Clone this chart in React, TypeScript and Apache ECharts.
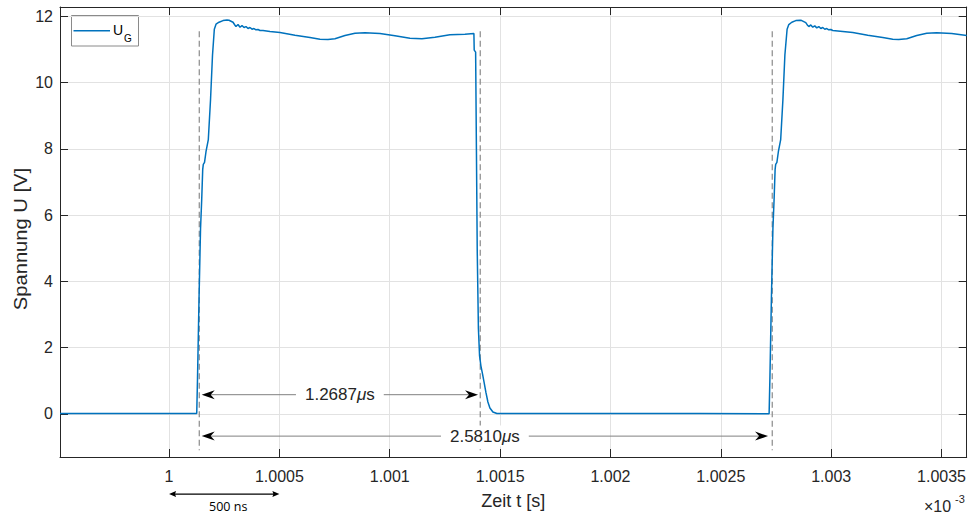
import React, { useEffect, useRef } from 'react';
import * as echarts from 'echarts';

// Time in ns relative to t = 1e-3 s; voltage in V
const preT = [-494, 0, 100, 125.5];
const preV = [0.01, 0.01, 0.015, 0.015];

const rise1T = [129.1, 135.9, 142.7, 148.1, 152.6, 155.3, 160.8, 167.6, 178, 188, 197, 205.2];
const rise1V = [1.08, 3.48, 5.58, 6.48, 7.38, 7.53, 7.59, 7.92, 8.28, 9.48, 10.83, 11.61];

const top1T = [212.9, 226.5, 244.6, 262.7, 271.7, 289.9, 298.9, 303.4, 312.5, 321.6, 330.6, 339.7, 348.7, 357.8, 366.8, 375.9, 385, 394, 403.1, 412.1, 425.7, 457.4, 502.7, 570.7, 638.6, 683.9, 720.1, 751.8, 797.1, 842.4, 887.7, 955.6, 1023.6, 1091.5, 1145.8, 1204.7, 1272.6, 1340.6, 1381.3];
const top1V = [11.76, 11.82, 11.87, 11.89, 11.88, 11.82, 11.73, 11.69, 11.75, 11.67, 11.72, 11.66, 11.69, 11.63, 11.66, 11.61, 11.63, 11.59, 11.6, 11.57, 11.57, 11.54, 11.51, 11.43, 11.36, 11.31, 11.3, 11.32, 11.42, 11.49, 11.5, 11.48, 11.41, 11.34, 11.32, 11.37, 11.44, 11.46, 11.48];

const fall1T = [1382.7, 1389.1, 1392.7, 1396.3, 1401.7, 1407, 1413, 1420.5, 1427.5, 1435.7, 1444.7, 1453.8, 1467.4, 1485.5];
const fall1V = [10.98, 10.92, 7.98, 4.98, 2.58, 1.75, 1.45, 1.2, 0.95, 0.65, 0.36, 0.18, 0.06, 0.015];

const lowT = [1952, 2405, 2718.8];
const lowV = [0.012, 0.009, 0.006];

const rise2T = [2722.4, 2729.2, 2736, 2741.4, 2746, 2748.6, 2754.1, 2760.9, 2771.3, 2781.3, 2790.3, 2800.3];
const rise2V = [1.08, 3.48, 5.58, 6.48, 7.38, 7.53, 7.59, 7.92, 8.28, 9.48, 10.83, 11.61];

const top2T = [2808, 2821.6, 2839.7, 2860, 2866.8, 2884.9, 2894, 2898.6, 2907.6, 2916.7, 2925.7, 2934.8, 2943.9, 2952.9, 2962, 2971, 2980.1, 2989.1, 2998.2, 3007.3, 3052.6, 3097.9, 3165.8, 3233.7, 3279, 3306.2, 3342.4, 3387.7, 3433, 3478.3, 3546.2, 3614.1];
const top2V = [11.75, 11.82, 11.87, 11.88, 11.87, 11.81, 11.72, 11.69, 11.74, 11.67, 11.71, 11.65, 11.69, 11.63, 11.66, 11.61, 11.63, 11.59, 11.6, 11.57, 11.54, 11.51, 11.43, 11.36, 11.31, 11.3, 11.32, 11.42, 11.49, 11.5, 11.48, 11.42];

const xTickValues = [0, 500, 1000, 1500, 2000, 2500, 3000, 3500];
const xTickLabels = ['1', '1.0005', '1.001', '1.0015', '1.002', '1.0025', '1.003', '1.0035'];
const yTickValues = [0, 2, 4, 6, 8, 10, 12];
const xRange = [-494, 3614];
const yRange = [-1.3, 12.28];

// Annotations
const markerTimes = [137, 1410, 2733];
const markerSpan = [11.55, -1.1];
const spanFrom = [148, 148];
const spanTo = [1400, 2714];
const spanLevel = [0.58, -0.67];
const spanLabels = ['1.2687', '2.5810'];
const scaleBar = [0, 500, -2.42];
const scaleBarLabel = '500 ns';

const seriesName = 'U_G';
const xName = 'Zeit t [s]';
const yName = 'Spannung U [V]';

function zip(t: number[], v: number[]) {
  return t.map((x, i) => [x, v[i]]);
}

const FONT = '"Liberation Sans", Arial, Helvetica, sans-serif';
const AX = '#262626';

function arrowHead(tipX: number, tipY: number, dir: number, len: number, half: number, notch: number) {
  return [
    [tipX, tipY],
    [tipX - dir * len, tipY - half],
    [tipX - dir * notch, tipY],
    [tipX - dir * len, tipY + half],
  ];
}

export default function App() {
  const ref = useRef<HTMLDivElement>(null);
  useEffect(() => {
    if (!ref.current) return;
    const chart = echarts.init(ref.current, undefined, { renderer: 'svg' });
    const waveData = [
      ...zip(preT, preV),
      ...zip(rise1T, rise1V),
      ...zip(top1T, top1V),
      ...zip(fall1T, fall1V),
      ...zip(lowT, lowV),
      ...zip(rise2T, rise2V),
      ...zip(top2T, top2V),
    ];
    const grid = { left: 60, right: 2, top: 7, bottom: 56 };
    const tickStyle = { show: true, inside: true, length: 8, lineStyle: { color: AX, width: 1 } };
    const option: any = {
      animation: false,
      backgroundColor: '#ffffff',
      grid,
      xAxis: [
        {
          type: 'value',
          min: xRange[0],
          max: xRange[1],
          position: 'bottom',
          name: xName,
          nameLocation: 'middle',
          nameGap: 35,
          nameTextStyle: { fontFamily: FONT, fontSize: 18, color: AX },
          axisLine: { show: true, onZero: false, lineStyle: { color: AX, width: 1 } },
          axisTick: { ...tickStyle, customValues: xTickValues },
          axisLabel: {
            customValues: xTickValues,
            formatter: (v: number) => {
              const i = xTickValues.indexOf(Math.round(v));
              return i >= 0 ? xTickLabels[i] : '';
            },
            fontFamily: FONT,
            fontSize: 16,
            color: AX,
            margin: 11,
          },
          splitLine: { show: true, lineStyle: { color: '#e2e2e2', width: 1 } },
        },
        {
          type: 'value',
          min: xRange[0],
          max: xRange[1],
          position: 'top',
          axisLine: { show: true, onZero: false, lineStyle: { color: AX, width: 1 } },
          axisTick: { ...tickStyle, customValues: xTickValues },
          axisLabel: { show: false, customValues: xTickValues },
          splitLine: { show: false },
        },
      ],
      yAxis: [
        {
          type: 'value',
          min: yRange[0],
          max: yRange[1],
          position: 'left',
          axisLine: { show: true, onZero: false, lineStyle: { color: AX, width: 1 } },
          axisTick: { ...tickStyle, customValues: yTickValues },
          axisLabel: { customValues: yTickValues, fontFamily: FONT, fontSize: 16, color: AX, margin: 7 },
          splitLine: { show: true, lineStyle: { color: '#e2e2e2', width: 1 } },
        },
        {
          type: 'value',
          min: yRange[0],
          max: yRange[1],
          position: 'right',
          axisLine: { show: true, onZero: false, lineStyle: { color: AX, width: 1 } },
          axisTick: { ...tickStyle, customValues: yTickValues },
          axisLabel: { show: false, customValues: yTickValues },
          splitLine: { show: false },
        },
      ],
      series: [
        {
          type: 'line',
          name: seriesName,
          data: waveData,
          showSymbol: false,
          symbol: 'none',
          lineStyle: { color: '#0072BD', width: 1.5 },
          z: 5,
        },
        {
          type: 'custom',
          name: 'markers',
          clip: false,
          z: 4,
          data: markerTimes.map((t) => [t, markerSpan[0], markerSpan[1]]),
          renderItem: (params: any, api: any) => {
            const a = api.coord([api.value(0), api.value(1)]);
            const b = api.coord([api.value(0), api.value(2)]);
            return {
              type: 'line',
              shape: { x1: a[0], y1: a[1], x2: b[0], y2: b[1] },
              style: { stroke: '#8a8a8a', lineWidth: 1.2, lineDash: [6, 3.5] },
            };
          },
        },
        {
          type: 'custom',
          name: 'spans',
          clip: false,
          z: 6,
          data: spanFrom.map((f, i) => [f, spanTo[i], spanLevel[i], i]),
          renderItem: (params: any, api: any) => {
            const a = api.coord([api.value(0), api.value(2)]);
            const b = api.coord([api.value(1), api.value(2)]);
            const idx = api.value(3);
            const y = a[1];
            return {
              type: 'group',
              children: [
                {
                  type: 'line',
                  shape: { x1: a[0] + 6, y1: y, x2: b[0] - 6, y2: y },
                  style: { stroke: '#808080', lineWidth: 1 },
                },
                {
                  type: 'polygon',
                  shape: { points: arrowHead(a[0], y, -1, 13, 4.5, 9) },
                  style: { fill: '#000000' },
                },
                {
                  type: 'polygon',
                  shape: { points: arrowHead(b[0], y, 1, 13, 4.5, 9) },
                  style: { fill: '#000000' },
                },
                {
                  type: 'text',
                  x: (a[0] + b[0]) / 2,
                  y: y,
                  style: {
                    text: spanLabels[idx] + '{mu|μ}s',
                    fontFamily: FONT,
                    fontSize: 17,
                    fill: AX,
                    align: 'center',
                    verticalAlign: 'middle',
                    backgroundColor: '#ffffff',
                    padding: [2, 9],
                    rich: { mu: { fontStyle: 'italic', fontFamily: FONT, fontSize: 17, fill: AX } },
                  },
                },
              ],
            };
          },
        },
        {
          type: 'custom',
          name: 'scalebar',
          clip: false,
          z: 6,
          data: [scaleBar],
          renderItem: (params: any, api: any) => {
            const a = api.coord([api.value(0), api.value(2)]);
            const b = api.coord([api.value(1), api.value(2)]);
            const y = a[1];
            return {
              type: 'group',
              children: [
                {
                  type: 'line',
                  shape: { x1: a[0] + 3, y1: y, x2: b[0] - 3, y2: y },
                  style: { stroke: '#000000', lineWidth: 1.2 },
                },
                {
                  type: 'polygon',
                  shape: { points: arrowHead(a[0], y, -1, 7, 3, 6) },
                  style: { fill: '#000000' },
                },
                {
                  type: 'polygon',
                  shape: { points: arrowHead(b[0], y, 1, 7, 3, 6) },
                  style: { fill: '#000000' },
                },
                {
                  type: 'text',
                  x: (a[0] + b[0]) / 2 + 4,
                  y: y + 12,
                  style: {
                    text: scaleBarLabel,
                    fontFamily: '"Open Sans", "Noto Sans", sans-serif',
                    fontSize: 12.5,
                    fill: '#000000',
                    align: 'center',
                    verticalAlign: 'middle',
                  },
                },
              ],
            };
          },
        },
      ],
      graphic: [
        {
          type: 'group',
          z: 100,
          children: [
            {
              type: 'text',
              x: 20.5,
              y: 239,
              rotation: Math.PI / 2,
              scaleX: 1.12,
              style: {
                text: yName,
                fontFamily: FONT,
                fontSize: 18,
                fill: AX,
                align: 'center',
                verticalAlign: 'middle',
              },
            },
            {
              type: 'rect',
              shape: { x: 71.5, y: 15.5, width: 67, height: 30.5 },
              style: { fill: '#ffffff', stroke: '#8a8a8a', lineWidth: 1 },
            },
            {
              type: 'line',
              shape: { x1: 73.5, y1: 30.7, x2: 110, y2: 30.7 },
              style: { stroke: '#0072BD', lineWidth: 1.5 },
            },
            {
              type: 'text',
              x: 113,
              y: 30,
              style: { text: 'U', fontFamily: FONT, fontSize: 14, fill: '#000000', verticalAlign: 'middle' },
            },
            {
              type: 'text',
              x: 124,
              y: 38.5,
              style: { text: 'G', fontFamily: FONT, fontSize: 10, fill: '#000000', verticalAlign: 'middle' },
            },
            {
              type: 'text',
              x: 924,
              y: 506,
              style: { text: '×10', fontFamily: FONT, fontSize: 16, fill: AX, verticalAlign: 'middle' },
            },
            {
              type: 'text',
              x: 955,
              y: 499,
              style: { text: '-3', fontFamily: FONT, fontSize: 11, fill: AX, verticalAlign: 'middle' },
            },
          ],
        },
      ],
    };
    chart.setOption(option);
    return () => chart.dispose();
  }, []);
  return (
    <div
      ref={ref}
      style={{ position: 'absolute', left: 0, top: 0, width: 969, height: 515, background: '#fff' }}
    />
  );
}
